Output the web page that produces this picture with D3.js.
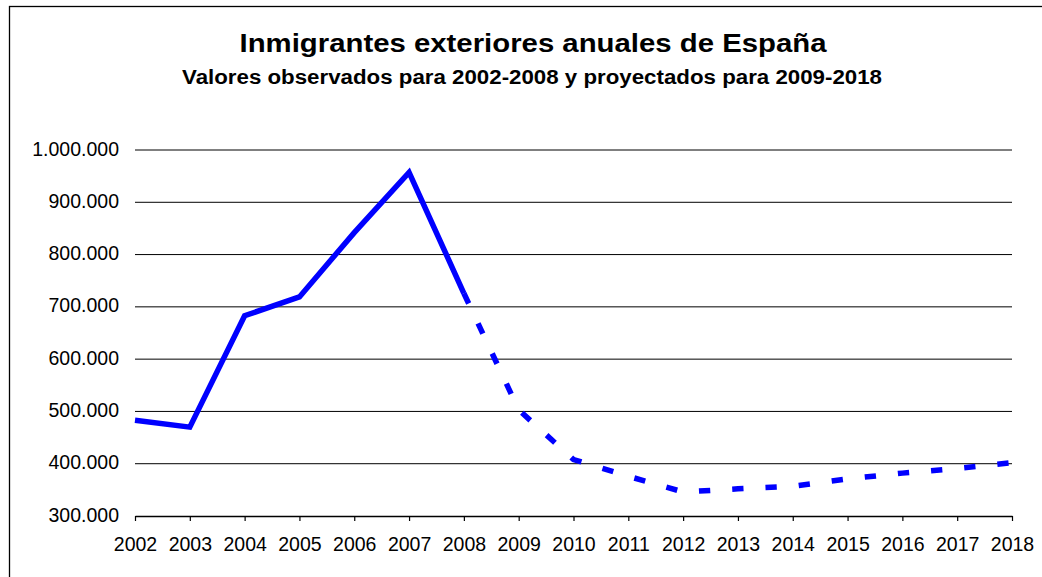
<!DOCTYPE html>
<html>
<head>
<meta charset="utf-8">
<script src="https://cdn.jsdelivr.net/npm/d3@7"></script>
<style>
  html, body { margin: 0; padding: 0; background: #fff; }
  svg { display: block; }
  text { font-family: "Liberation Sans", Arial, Helvetica, sans-serif; fill: #000; }
</style>
</head>
<body>
<svg id="chart" width="1042" height="577"></svg>
<script>
const titleText = "Inmigrantes exteriores anuales de España";
const subtitleText = "Valores observados para 2002-2008 y proyectados para 2009-2018";
const years = ["2002","2003","2004","2005","2006","2007","2008","2009","2010","2011","2012","2013","2014","2015","2016","2017","2018"];
const observedYears = ["2002","2003","2004","2005","2006","2007","2008"];
const observedValues = [483000, 470000, 683000, 719000, 842000, 957000, 726000];
const projectedYears = ["2008","2009","2010","2011","2012","2013","2014","2015","2016","2017","2018"];
const projectedValues = [726000, 503000, 408000, 376000, 346000, 352000, 357000, 371000, 382000, 391000, 402000];
const yTicks = [300000, 400000, 500000, 600000, 700000, 800000, 900000, 1000000];

const svg = d3.select("#chart");

// outer frame
svg.append("rect")
  .attr("x", 9.5).attr("y", 6.5)
  .attr("width", 1100).attr("height", 700)
  .attr("fill", "none").attr("stroke", "#000").attr("stroke-width", 1.3);

const x = d3.scalePoint().domain(years).range([135, 1012]);
const y = d3.scaleLinear().domain([300000, 1000000]).range([516, 150]);

const fmt = v => d3.format(",")(v).replace(/,/g, ".");

// gridlines
svg.append("g").selectAll("line")
  .data(yTicks.filter(v => v > 300000))
  .join("line")
  .attr("x1", 135).attr("x2", 1012)
  .attr("y1", d => y(d)).attr("y2", d => y(d))
  .attr("stroke", "#000").attr("stroke-width", 1);

// y labels
svg.append("g").selectAll("text")
  .data(yTicks)
  .join("text")
  .attr("x", 119)
  .attr("y", d => y(d) + 5.5)
  .attr("text-anchor", "end")
  .attr("font-size", 19.5)
  .text(d => fmt(d));

// x axis
const xAxis = d3.axisBottom(x).tickSize(5).tickSizeOuter(0).tickPadding(16);
const gx = svg.append("g").attr("transform", `translate(0,${y(300000)})`).call(xAxis);
gx.select(".domain").attr("stroke", "#000").attr("stroke-width", 1.3);
gx.selectAll(".tick line").attr("stroke", "#000").attr("stroke-width", 1.2);
gx.selectAll(".tick text")
  .attr("font-size", 19.5)
  .attr("font-family", "\"Liberation Sans\", Arial, Helvetica, sans-serif")
  .attr("fill", "#000")
  .attr("dy", "0.71em");

const line = d3.line().x(d => x(d[0])).y(d => y(d[1]));

// observed (solid)
svg.append("path")
  .datum(observedYears.map((yr, i) => [yr, observedValues[i]]))
  .attr("d", line)
  .attr("fill", "none")
  .attr("stroke", "#0000ff")
  .attr("stroke-width", 5.5)
  .attr("stroke-linejoin", "miter");

// projected (dashed)
svg.append("path")
  .datum(projectedYears.map((yr, i) => [yr, projectedValues[i]]))
  .attr("d", line)
  .attr("fill", "none")
  .attr("stroke", "#0000ff")
  .attr("stroke-width", 5.5)
  .attr("stroke-dasharray", "11.3,22")
  .attr("stroke-linejoin", "miter");

// titles
svg.append("text")
  .attr("x", 239.5).attr("y", 52)
  .attr("font-size", 26).attr("font-weight", "bold")
  .attr("textLength", 587).attr("lengthAdjust", "spacingAndGlyphs")
  .text(titleText);

svg.append("text")
  .attr("x", 182).attr("y", 83.5)
  .attr("font-size", 19.5).attr("font-weight", "bold")
  .attr("textLength", 700).attr("lengthAdjust", "spacingAndGlyphs")
  .text(subtitleText);
</script>
</body>
</html>
